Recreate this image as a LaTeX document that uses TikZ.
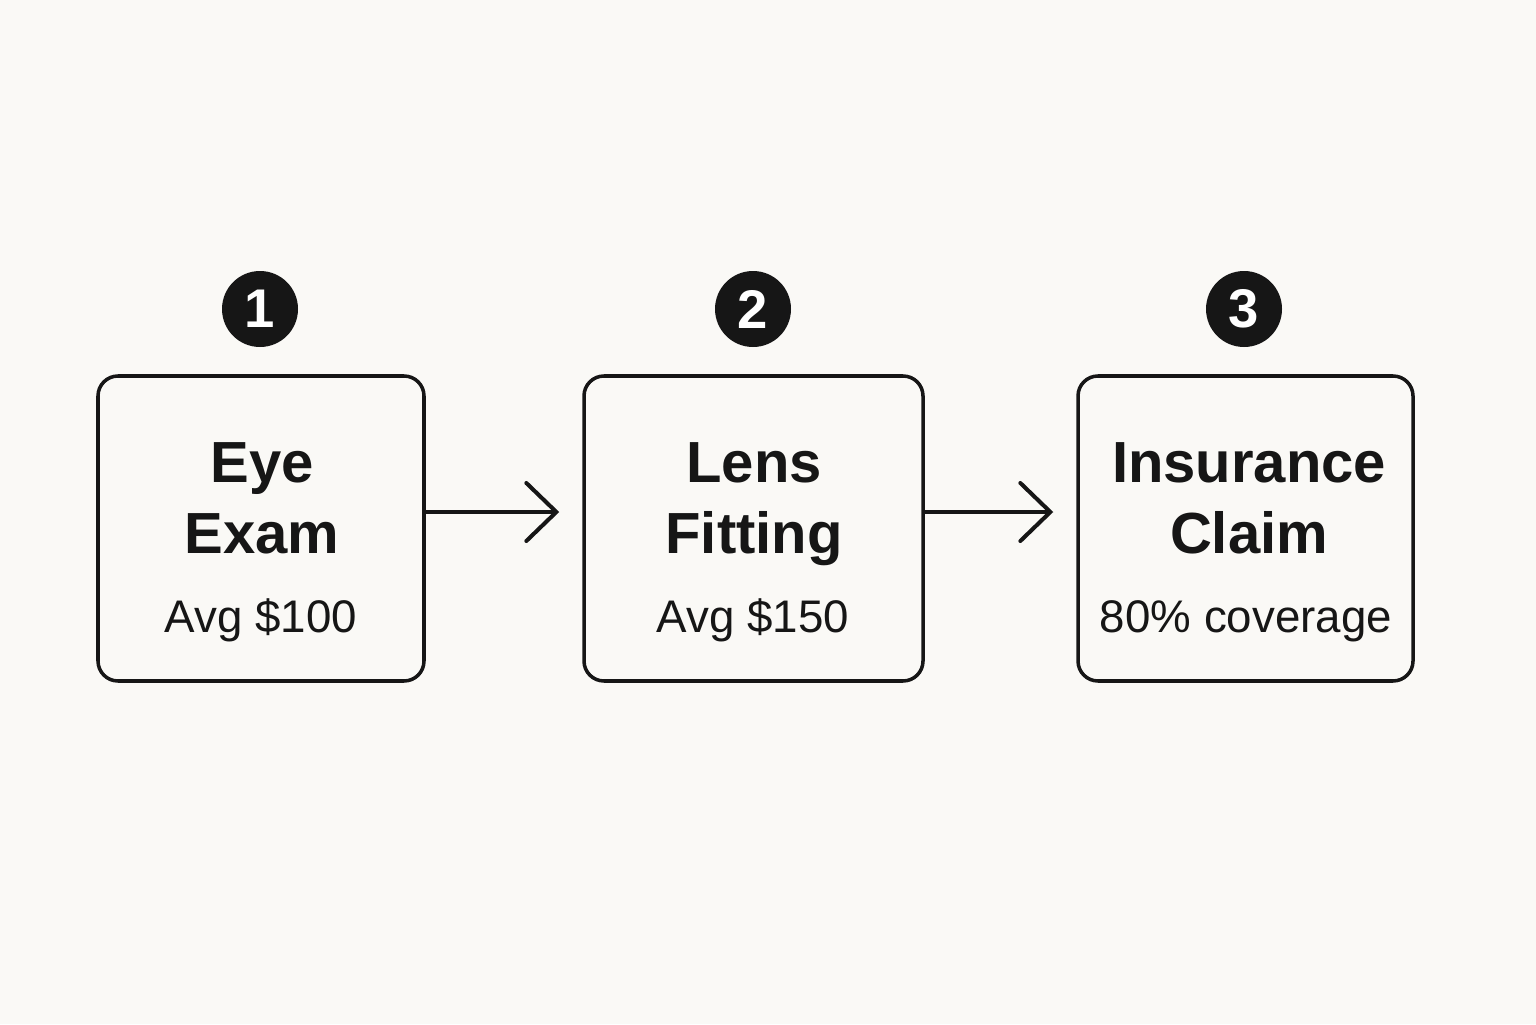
\documentclass[tikz,border=0pt]{standalone}
\usepackage{fontspec}
\setmainfont{Liberation Sans}
\usetikzlibrary{arrows.meta}
\definecolor{paper}{HTML}{FAF9F6}
\definecolor{ink}{HTML}{161616}
\begin{document}
\begin{tikzpicture}[
  stepbox/.style={draw=ink, line width=1pt, rounded corners=0.2cm, fill=paper, inner sep=0pt},
  badge/.style={circle, fill=ink, minimum size=0.76cm, inner sep=0pt, text=white, font=\fontsize{15.5}{16}\selectfont\bfseries},
  title/.style={text=ink, align=center, inner sep=0pt, font=\fontsize{16.5}{20.1}\selectfont\bfseries},
  cost/.style={text=ink, inner sep=0pt, font=\fontsize{13}{15}\selectfont},
  flow/.style={draw=ink, line width=1.15pt, -{Straight Barb[length=0.3cm, width=0.58cm, line width=1.15pt, line cap=round]}}]
\fill[paper] (0,0) rectangle (15.36,10.24);
\useasboundingbox (0,0) rectangle (15.36,10.24);
\node[stepbox, minimum width=3.26cm, minimum height=3.05cm] (exam) at (2.61,4.955) {};
\node[stepbox, minimum width=3.39cm, minimum height=3.05cm] (fitting) at (7.535,4.955) {};
\node[stepbox, minimum width=3.35cm, minimum height=3.05cm] (claim) at (12.455,4.955) {};
\node[badge] (one) at (2.60,7.15) {1};
\node[badge] (two) at (7.53,7.15) {2};
\node[badge] (three) at (12.44,7.15) {3};
\node[title, anchor=north] (examtitle) at (2.62,5.82) {Eye\\Exam};
\node[title, anchor=north] (fittingtitle) at (7.54,5.82) {Lens\\Fitting};
\node[title, anchor=north] (claimtitle) at (12.49,5.82) {Insurance\\Claim};
\node[cost, anchor=base] (examcost) at (2.61,3.92) {Avg \$100};
\node[cost, anchor=base] (fittingcost) at (7.53,3.92) {Avg \$150};
\node[cost, anchor=base] (claimcost) at (12.46,3.92) {80\% coverage};
\draw[flow] ([yshift=0.165cm]exam.east) -- ([xshift=-0.23cm,yshift=0.165cm]fitting.west);
\draw[flow] ([yshift=0.165cm]fitting.east) -- ([xshift=-0.23cm,yshift=0.165cm]claim.west);
\end{tikzpicture}
\end{document}
